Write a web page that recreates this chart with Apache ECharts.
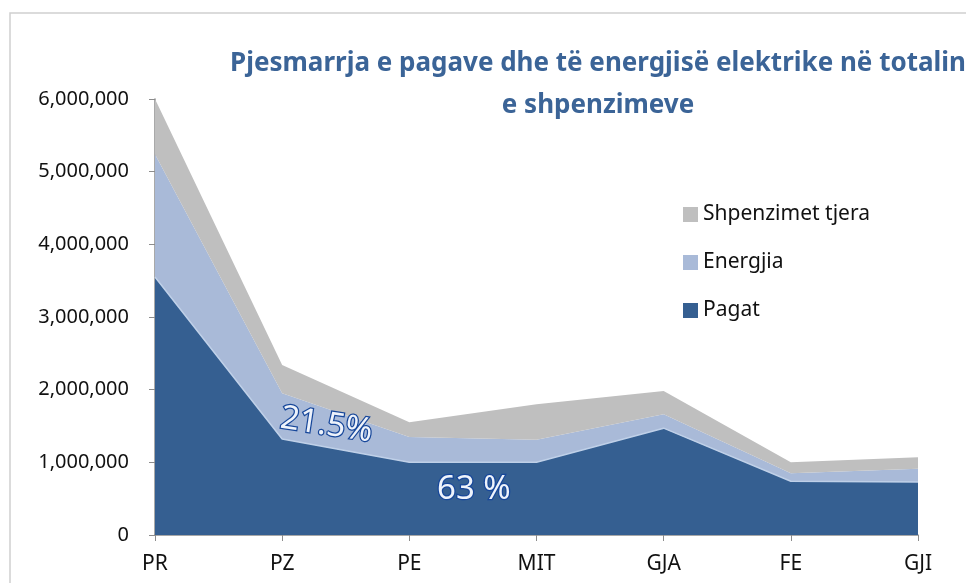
<!DOCTYPE html>
<html>
<head>
<meta charset="utf-8">
<script src="https://cdn.jsdelivr.net/npm/echarts@6/dist/echarts.min.js"></script>
<style>
  html, body { margin: 0; padding: 0; background: #fff; }
  #chart { width: 966px; height: 583px; }
</style>
</head>
<body>
<div id="chart"></div>
<script>
// categories and series values
var categories = ['PR', 'PZ', 'PE', 'MIT', 'GJA', 'FE', 'GJI']
var pagat = [3550000, 1320000, 1000000, 1000000, 1470000, 740000, 730000]
var energjia = [1690000, 630000, 350000, 310000, 190000, 110000, 180000]
var tjera = [760000, 390000, 200000, 490000, 320000, 150000, 160000]
var yTicks = [0, 1000000, 2000000, 3000000, 4000000, 5000000, 6000000]

var fontFamily = '"Noto Sans", "Open Sans", sans-serif'

function fmt (v) {
  return String(v).replace(/\B(?=(\d{3})+(?!\d))/g, ',')
}

var chart = echarts.init(document.getElementById('chart'))

var labelStyle = {
  font: '33px ' + fontFamily,
  fill: '#eef3fb',
  stroke: '#17479a',
  lineWidth: 2.5,
  shadowColor: 'rgba(0,0,0,0.5)',
  shadowBlur: 3,
  shadowOffsetX: 2,
  shadowOffsetY: 2
}

var option = {
  animation: false,
  backgroundColor: '#fff',
  textStyle: { fontFamily: fontFamily },
  title: {
    text: 'Pjesmarrja e pagave dhe të energjisë elektrike në totalin\ne shpenzimeve',
    left: 593,
    top: 38,
    textAlign: 'center',
    textStyle: {
      color: '#3B6497',
      fontSize: 26,
      fontWeight: 'bold',
      lineHeight: 42,
      fontFamily: fontFamily
    }
  },
  legend: {
    orient: 'vertical',
    left: 678,
    top: 199,
    itemGap: 27,
    itemWidth: 15,
    itemHeight: 15,
    icon: 'rect',
    data: ['Shpenzimet tjera', 'Energjia', 'Pagat'],
    textStyle: { fontSize: 21, color: '#111', fontFamily: fontFamily }
  },
  grid: {
    left: 155,
    right: 48,
    top: 99,
    bottom: 48
  },
  xAxis: {
    type: 'category',
    boundaryGap: false,
    data: categories,
    axisLine: { lineStyle: { color: '#8c8c8c', width: 1.5 } },
    axisTick: { show: true, length: 6, lineStyle: { color: '#8c8c8c' } },
    axisLabel: { fontSize: 21, color: '#111', margin: 19 },
    splitLine: { show: false }
  },
  yAxis: {
    type: 'value',
    min: yTicks[0],
    max: yTicks[yTicks.length - 1],
    interval: 1000000,
    axisLine: { show: true, lineStyle: { color: '#8c8c8c', width: 1.5 } },
    axisTick: { show: true, length: 6, lineStyle: { color: '#8c8c8c' } },
    axisLabel: { fontSize: 20, color: '#111', margin: 26, formatter: fmt },
    splitLine: { show: false }
  },
  series: [
    {
      name: 'Pagat',
      type: 'line',
      stack: 'total',
      symbol: 'none',
      lineStyle: { color: '#BFD0E8', width: 1.5 },
      areaStyle: { color: '#355F91', opacity: 1 },
      itemStyle: { color: '#355F91' },
      data: pagat
    },
    {
      name: 'Energjia',
      type: 'line',
      stack: 'total',
      symbol: 'none',
      lineStyle: { width: 0 },
      areaStyle: { color: '#A9BAD8', opacity: 1 },
      itemStyle: { color: '#A9BAD8' },
      data: energjia
    },
    {
      name: 'Shpenzimet tjera',
      type: 'line',
      stack: 'total',
      symbol: 'none',
      lineStyle: { width: 0 },
      areaStyle: { color: '#BFBFBF', opacity: 1 },
      itemStyle: { color: '#BFBFBF' },
      data: tjera
    }
  ],
  graphic: [
    {
      type: 'rect',
      silent: true,
      z: -1,
      shape: { x: 10, y: 13, width: 970, height: 600 },
      style: { fill: 'none', stroke: '#d0d0d0', lineWidth: 1.5 }
    },
    {
      type: 'text',
      x: 283,
      y: 402,
      rotation: -0.15,
      z: 100,
      style: Object.assign({ text: '21.5%' }, labelStyle)
    },
    {
      type: 'text',
      x: 437,
      y: 473,
      z: 100,
      style: Object.assign({ text: '63 %' }, labelStyle)
    }
  ]
}

chart.setOption(option)
</script>
</body>
</html>
